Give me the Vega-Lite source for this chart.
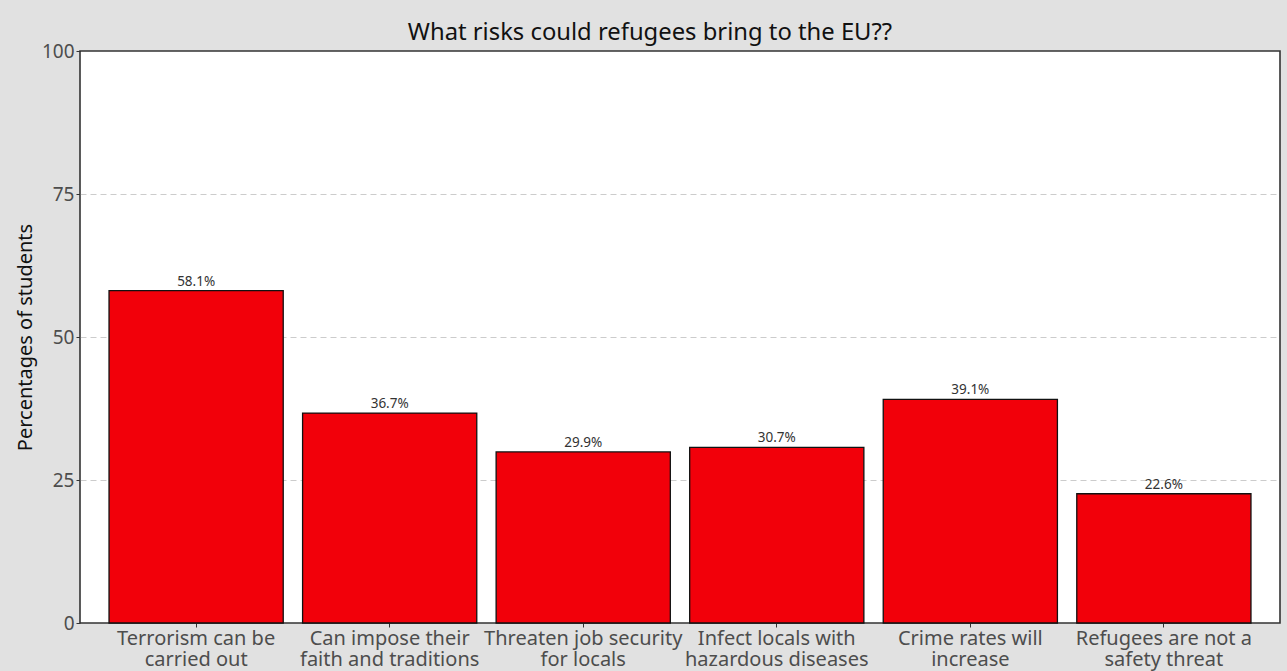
{
  "$schema": "https://vega.github.io/schema/vega-lite/v6.json",
  "autosize": {"type": "none"},
  "width": 1200,
  "height": 572,
  "padding": {"left": 80, "top": 51, "right": 7, "bottom": 48},
  "background": "#e1e1e1",
  "title": {
    "text": "What risks could refugees bring to the EU??",
    "font": "Noto Sans",
    "fontSize": 23.8,
    "fontWeight": "normal",
    "color": "#111111",
    "baseline": "alphabetic",
    "offset": 13,
    "dy": 35,
    "dx": -30,
    "anchor": "middle"
  },
  "config": {
    "font": "Noto Sans",
    "view": {"fill": "white", "stroke": "#333333", "strokeWidth": 1.6}
  },
  "data": {
    "values": [
      {"risk": "Terrorism can be|carried out", "pct": 58.1, "label": "58.1%", "order": 1},
      {"risk": "Can impose their|faith and traditions", "pct": 36.7, "label": "36.7%", "order": 2},
      {"risk": "Threaten job security|for locals", "pct": 29.9, "label": "29.9%", "order": 3},
      {"risk": "Infect locals with|hazardous diseases", "pct": 30.7, "label": "30.7%", "order": 4},
      {"risk": "Crime rates will|increase", "pct": 39.1, "label": "39.1%", "order": 5},
      {"risk": "Refugees are not a|safety threat", "pct": 22.6, "label": "22.6%", "order": 6}
    ]
  },
  "encoding": {
    "x": {
      "field": "risk",
      "type": "nominal",
      "sort": {"field": "order"},
      "scale": {"paddingInner": 0.1, "paddingOuter": 0.15},
      "axis": {
        "title": null,
        "labelAngle": 0,
        "labelExpr": "split(datum.label, '|')",
        "labelFont": "Noto Sans",
        "labelFontSize": 20,
        "labelLimit": 0,
        "labelColor": "#4d4d4d",
        "labelLineHeight": 20.5,
        "labelPadding": 1.5,
        "labelOverlap": false,
        "tickSize": 4,
        "tickColor": "#333333",
        "domain": false,
        "grid": false
      }
    },
    "y": {
      "field": "pct",
      "type": "quantitative",
      "scale": {"domain": [0, 100], "nice": false},
      "axis": {
        "title": "Percentages of students",
        "titleFont": "Noto Sans",
        "titleFontSize": 20,
        "titleFontWeight": "normal",
        "titleColor": "#111111",
        "titleX": -45,
        "values": [0, 25, 50, 75, 100],
        "labelFont": "Noto Sans",
        "labelFontSize": 19,
        "labelColor": "#4d4d4d",
        "labelPadding": 2,
        "tickSize": 4,
        "tickColor": "#333333",
        "domain": false,
        "grid": true,
        "gridColor": "#cccccc",
        "gridDash": [6, 4],
        "gridWidth": 1,
        "gridOpacity": {"condition": {"test": "datum.value == 0 || datum.value == 100", "value": 0}, "value": 1}
      }
    }
  },
  "layer": [
    {
      "mark": {"type": "bar", "color": "#f2000a", "stroke": "#111111", "strokeWidth": 1.3}
    },
    {
      "mark": {"type": "text", "baseline": "alphabetic", "dy": -5, "fontSize": 13.5, "color": "#333333", "font": "Noto Sans"},
      "encoding": {
        "text": {"field": "label", "type": "nominal"}
      }
    }
  ]
}
